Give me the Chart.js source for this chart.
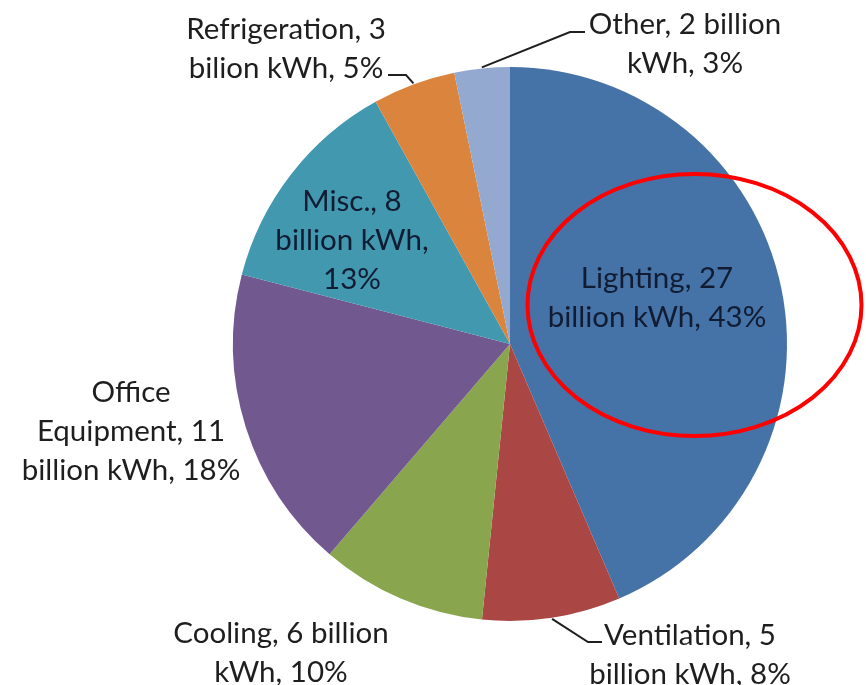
<!DOCTYPE html>
<html>
<head>
<meta charset="utf-8">
<script src="https://cdn.jsdelivr.net/npm/chart.js@4"></script>
<style>
  html, body { margin: 0; padding: 0; background: #ffffff; }
  #wrap { width: 866px; height: 685px; }
</style>
</head>
<body>
<div id="wrap"><canvas id="energyPie" width="866" height="685"></canvas></div>
<script>
// Electricity use by end use, billion kWh
const categories = ['Lighting', 'Ventilation', 'Cooling', 'Office Equipment', 'Misc.', 'Refrigeration', 'Other'];
const energyBillionKWh = [27, 5, 6, 11, 8, 3, 2];
const shareText = ['43%', '8%', '10%', '18%', '13%', '5%', '3%'];

// Label text, broken into lines as printed
const labelLines = [
  ['Lighting, 27', 'billion kWh, 43%'],
  ['Ventilation, 5', 'billion kWh, 8%'],
  ['Cooling, 6 billion', 'kWh, 10%'],
  ['Office', 'Equipment, 11', 'billion kWh, 18%'],
  ['Misc., 8', 'billion kWh,', '13%'],
  ['Refrigeration, 3', 'bilion kWh, 5%'],
  ['Other, 2 billion', 'kWh, 3%'],
];

const SLICE_COLORS = ['#4572a7', '#aa4643', '#89a54e', '#71588f', '#4198af', '#db843d', '#93a9cf'];

// where each label block sits (centre x, first line middle y), plus optional leader elbow/end
const LABEL_PLACEMENT = [
  { x: 657, y: 278, inside: true },
  { x: 690, y: 635, leader: [[588, 642], [602, 642]] },
  { x: 281, y: 633 },
  { x: 131, y: 392 },
  { x: 352, y: 201, inside: true },
  { x: 286, y: 29, leader: [[406, 75], [388, 75]] },
  { x: 685, y: 24, leader: [[570, 32], [585, 32]] },
];

const FONT = "29.5px 'Lato', 'Open Sans', sans-serif";
const LINE_HEIGHT = 39;

const sliceLabelsPlugin = {
  id: 'sliceLabels',
  afterDatasetsDraw(chart) {
    const { ctx } = chart;
    const meta = chart.getDatasetMeta(0);
    ctx.save();
    ctx.font = FONT;
    ctx.textAlign = 'center';
    ctx.textBaseline = 'middle';

    meta.data.forEach((arc, i) => {
      const place = LABEL_PLACEMENT[i];
      if (!place) return;

      if (place.leader) {
        const mid = (arc.startAngle + arc.endAngle) / 2;
        const r = arc.outerRadius + 1;
        ctx.beginPath();
        ctx.moveTo(arc.x + Math.cos(mid) * r, arc.y + Math.sin(mid) * r);
        place.leader.forEach(([px, py]) => ctx.lineTo(px, py));
        ctx.strokeStyle = '#1f1f1f';
        ctx.lineWidth = 2;
        ctx.stroke();
      }

      ctx.fillStyle = place.inside ? '#111c33' : '#1e1e1e';
      labelLines[i].forEach((line, k) => {
        ctx.fillText(line, place.x, place.y + k * LINE_HEIGHT);
      });
    });
    ctx.restore();
  }
};

// red ring drawn around the largest slice's label
const highlightPlugin = {
  id: 'highlightRing',
  afterDraw(chart) {
    const { ctx } = chart;
    ctx.save();
    ctx.beginPath();
    ctx.ellipse(694.5, 305, 167, 131, 0, 0, Math.PI * 2);
    ctx.strokeStyle = '#ff0000';
    ctx.lineWidth = 4;
    ctx.stroke();
    ctx.restore();
  }
};

new Chart(document.getElementById('energyPie'), {
  type: 'pie',
  data: {
    labels: categories,
    datasets: [{
      data: energyBillionKWh,
      backgroundColor: SLICE_COLORS,
      borderWidth: 0,
    }],
  },
  options: {
    responsive: false,
    animation: false,
    layout: { padding: { top: 67, bottom: 64, left: 233, right: 79 } },
    plugins: {
      legend: { display: false },
      tooltip: { enabled: false },
    },
  },
  plugins: [sliceLabelsPlugin, highlightPlugin],
});
</script>
</body>
</html>
